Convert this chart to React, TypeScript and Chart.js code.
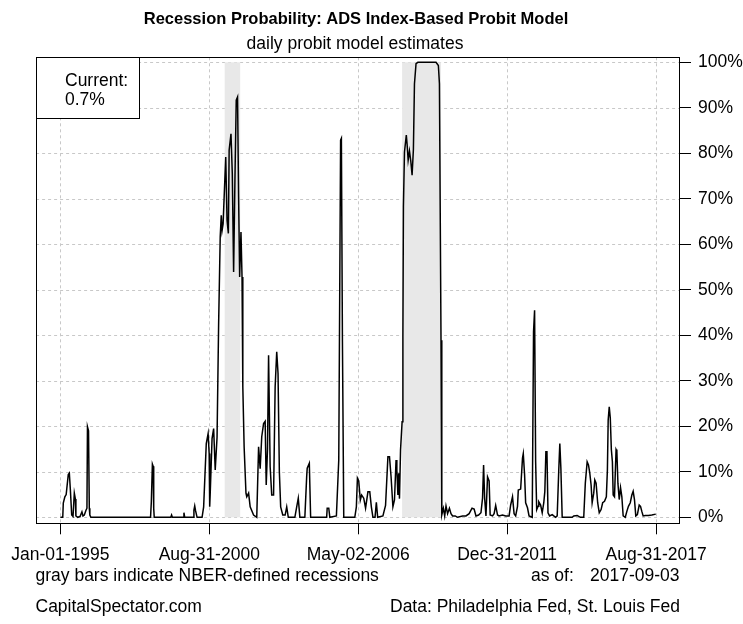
import React, { useEffect, useRef } from "react";
import { Chart, registerables } from "chart.js";

Chart.register(...registerables);

// ---------- data (decimal years, % probability) ----------
const probDates: number[] = [
  1995.00, 1995.09, 1995.11, 1995.17, 1995.22, 1995.30, 1995.34, 1995.38, 1995.43, 1995.48,
  1995.53, 1995.57, 1995.59, 1995.66, 1995.75, 1995.82, 1995.86, 1995.91, 1995.97, 1996.01,
  1996.03, 1996.07, 1996.10, 1996.12, 1996.16, 1998.43, 1998.46, 1998.50, 1998.53, 1998.55,
  1998.57, 1999.20, 1999.23, 1999.26, 1999.67, 1999.70, 1999.73, 2000.05, 2000.08, 2000.11,
  2000.14, 2000.20, 2000.39,
  2000.45, 2000.55, 2000.62, 2000.66, 2000.68, 2000.70, 2000.77, 2000.83, 2000.89, 2000.96,
  2001.02, 2001.08, 2001.12, 2001.15, 2001.19, 2001.24, 2001.29, 2001.34, 2001.39, 2001.42,
  2001.49, 2001.54, 2001.59, 2001.64, 2001.69, 2001.74, 2001.78, 2001.82, 2001.87, 2001.91,
  2001.94, 2001.99, 2002.06, 2002.09, 2002.16, 2002.22, 2002.35, 2002.47, 2002.54, 2002.60,
  2002.66, 2002.73, 2002.79, 2002.83, 2002.88, 2002.92, 2002.98, 2003.04, 2003.11, 2003.17,
  2003.23, 2003.28, 2003.33, 2003.38, 2003.46, 2003.55, 2003.61,
  2003.67, 2003.92, 2003.99, 2004.05, 2004.11, 2004.30, 2004.37, 2004.39, 2004.47, 2004.52,
  2005.13, 2005.15, 2005.21, 2005.25, 2005.50, 2005.59, 2005.66, 2005.69, 2005.73, 2005.78,
  2006.20, 2006.26, 2006.30, 2006.35, 2006.41, 2006.46, 2006.54, 2006.61, 2006.70, 2006.77,
  2006.83, 2006.89, 2006.97, 2007.02, 2007.07, 2007.27, 2007.37, 2007.46, 2007.52, 2007.58,
  2007.65, 2007.71, 2007.77, 2007.80, 2007.84, 2007.87, 2007.90, 2007.94, 2008.00, 2008.03,
  2008.05, 2008.09, 2008.16, 2008.19, 2008.23, 2008.28, 2008.33, 2008.38, 2008.43, 2008.47,
  2008.53, 2008.60, 2009.29, 2009.38, 2009.42, 2009.48, 2009.51,
  2009.57, 2009.62, 2009.67, 2009.73, 2009.80, 2009.86, 2009.92, 2010.02, 2010.11, 2010.30,
  2010.43, 2010.55, 2010.66, 2010.74, 2010.81, 2010.91, 2011.00, 2011.06, 2011.10, 2011.14,
  2011.19, 2011.25, 2011.31, 2011.35, 2011.44, 2011.50, 2011.56, 2011.63, 2011.69, 2011.82,
  2011.94,
  2012.07, 2012.13, 2012.20, 2012.26, 2012.32, 2012.39, 2012.42, 2012.51, 2012.58, 2012.61,
  2012.66, 2012.70, 2012.77, 2012.83, 2012.95, 2013.00, 2013.04, 2013.08, 2013.12, 2013.17,
  2013.20, 2013.27, 2013.33, 2013.39, 2013.43, 2013.47, 2013.51, 2013.55, 2013.61, 2013.71,
  2013.77, 2013.84, 2013.90, 2013.96, 2014.00, 2014.04, 2014.09, 2014.47, 2014.53, 2014.66,
  2014.78, 2014.91, 2014.97, 2015.04, 2015.09, 2015.14, 2015.19, 2015.23, 2015.29, 2015.33,
  2015.38, 2015.44, 2015.50, 2015.57, 2015.63, 2015.70, 2015.77, 2015.81, 2015.84, 2015.88,
  2015.92, 2015.96, 2016.00, 2016.03, 2016.08, 2016.14, 2016.17, 2016.21, 2016.26, 2016.31,
  2016.36, 2016.41, 2016.49, 2016.55, 2016.61, 2016.68, 2016.74, 2016.79, 2016.84, 2016.89,
  2016.95, 2017.02, 2017.07, 2017.12, 2017.17, 2017.25, 2017.37, 2017.50, 2017.65,
];

const probValues: number[] = [
  0, 0, 3.1, 4.5, 5, 9.4, 9.7, 6, 0.5, 0.2,
  5.3, 4, 0.3, 0, 0.2, 1.2, 0.3, 0.5, 1.5, 2,
  19.9, 19, 2, 0.5, 0, 0, 3.4, 11.7, 11.2, 2,
  0, 0, 0.5, 0, 0, 1, 0, 0, 1.6, 2.5,
  1.5, 0, 0,
  2.3, 16.2, 18.4, 14, 2.3, 5.3, 17.3, 19.5, 10.4, 17.6,
  42.6, 61.6, 66.4, 63, 64.5, 71.9, 79.2, 65.3, 62.4, 80.7,
  84.3, 75.5, 53.9, 74.1, 91.7, 92.4, 70.4, 52.8, 62.7, 52.8,
  28.7, 15.5, 5.3, 4.5, 5.3, 2.3, 0.5, 0, 15.5, 10.7,
  17.7, 20.6, 21.1, 7.1, 15.1, 35.6, 11.1, 4.9, 4.9, 28.7,
  36.4, 31.6, 10, 2.3, 0.5, 0.5, 2.3,
  0, 0, 2.3, 4.2, 0, 0, 9, 10.8, 11.9, 0,
  0, 2, 2, 0, 0.3, 12.6, 82.9, 83.3, 38.6, 0,
  0, 2.3, 8.6, 8, 3.8, 4.9, 4.2, 2, 5.6, 5.6,
  2.3, 0, 0, 3.3, 0, 0.3, 2.6, 13.3, 13.3, 8.9,
  2.3, 3.8, 12.6, 10.4, 4.9, 9.7, 4.1, 14.8, 21, 39.7,
  68.2, 80.3, 84, 82, 78.5, 80.5, 78.3, 75.2, 80.9, 95.3,
  99.7, 100, 100, 99.3, 95.3, 38.9, 0.5,
  2, 0.3, 2.5, 0.8, 2, 0.8, 0.3, 0.3, 0, 0.3,
  0.3, 0.8, 2, 1.8, 0.3, 0.5, 1, 4.2, 11.5, 4.2,
  0.3, 8.9, 8, 0.5, 0.3, 0.8, 2.6, 0.5, 0.3, 0.5,
  0.3,
  0.3, 2.7, 4.5, 0.8, 0.3, 2.4, 6, 6.2, 13, 14,
  9.3, 3.2, 2.1, 0.3, 0, 40.8, 45.5, 12.2, 1.7, 2.4,
  3.4, 2.7, 1, 3.2, 5.7, 14.4, 14.4, 1, 0.3, 0.6,
  0.3, 0, 0.3, 10.4, 16.2, 10.8, 0, 0, 0.3, 0.4,
  0, 0, 7.5, 12.2, 11.5, 9.7, 7.1, 3.2, 5.3, 8.2,
  7.5, 3.2, 1, 1.7, 3.2, 3.5, 4.5, 10.4, 21.4, 24.3,
  21.8, 14.9, 12.2, 4.9, 4.5, 14.9, 14.5, 7.5, 3.9, 6.5,
  4.5, 0.3, 0, 1.3, 2.4, 3.2, 4.9, 5.7, 3.9, 0.3,
  0.6, 2.7, 2.4, 1.3, 0.3, 0.4, 0.4, 0.5, 0.7,
];

const recessionStarts: number[] = [2001.25, 2008.0];
const recessionEnds: number[] = [2001.84, 2009.48];

const xTickYears: number[] = [1995.0, 2000.664, 2006.332, 2011.997, 2017.663];
const xTickLabels: string[] = ["Jan-01-1995", "Aug-31-2000", "May-02-2006", "Dec-31-2011", "Aug-31-2017"];
const yTickValues: number[] = [0, 10, 20, 30, 40, 50, 60, 70, 80, 90, 100];
const xMin = 1994.076;
const xMax = 2018.534;
const yMin = -1.32;
const yMax = 101.1;

const currentLabel = "Current:";
const currentValue = "0.7%";
const titleText = "Recession Probability: ADS Index-Based Probit Model";
const subtitleText = "daily probit model estimates";
const noteText = "gray bars indicate NBER-defined recessions";
const asOfLabel = "as of:";
const asOfDate = "2017-09-03";
const sourceLeft = "CapitalSpectator.com";
const sourceRight = "Data: Philadelphia Fed, St. Louis Fed";

const FAMILY = "'Liberation Sans', Arial, sans-serif";
const FS = 17.5;
const W = 743;
const H = 624;

const decorPlugin = {
  id: "decor",
  beforeDatasetsDraw(chart: any) {
    const { ctx, chartArea: a, scales } = chart;
    const x = scales.x;
    const y = scales.y;
    ctx.save();
    ctx.strokeStyle = "#c8c8c8";
    ctx.lineWidth = 1;
    ctx.setLineDash([3, 3]);
    for (const v of xTickYears) {
      const px = Math.round(x.getPixelForValue(v)) + 0.5;
      ctx.beginPath();
      ctx.moveTo(px, a.top);
      ctx.lineTo(px, a.bottom);
      ctx.stroke();
    }
    for (const v of yTickValues) {
      const py = Math.round(y.getPixelForValue(v)) + 0.5;
      ctx.beginPath();
      ctx.moveTo(a.left, py);
      ctx.lineTo(a.right, py);
      ctx.stroke();
    }
    ctx.setLineDash([]);
    ctx.fillStyle = "#e8e8e8";
    const yTop = y.getPixelForValue(100);
    const yBot = y.getPixelForValue(0);
    recessionStarts.forEach((s, i) => {
      const x0 = x.getPixelForValue(s);
      const x1 = x.getPixelForValue(recessionEnds[i]);
      ctx.fillRect(x0, yTop, x1 - x0, yBot - yTop);
    });
    ctx.restore();
  },
  afterDraw(chart: any) {
    const { ctx, chartArea: a } = chart;
    ctx.save();
    ctx.strokeStyle = "#000";
    ctx.lineWidth = 1;
    ctx.strokeRect(Math.round(a.left) + 0.5, Math.round(a.top) + 0.5, Math.round(a.right - a.left), Math.round(a.bottom - a.top));
    const lx = Math.round(a.left) + 0.5;
    const ly = Math.round(a.top) + 0.5;
    ctx.fillStyle = "#fff";
    ctx.fillRect(lx, ly, 103, 61);
    ctx.strokeRect(lx, ly, 103, 61);
    ctx.fillStyle = "#000";
    ctx.textAlign = "left";
    ctx.textBaseline = "alphabetic";
    ctx.font = `${FS}px ${FAMILY}`;
    ctx.fillText(currentLabel, 65, 86);
    ctx.fillText(currentValue, 65, 105);
    ctx.textAlign = "center";
    ctx.font = `bold 16.5px ${FAMILY}`;
    ctx.fillText(titleText, 356, 24);
    ctx.font = `${FS}px ${FAMILY}`;
    ctx.fillText(subtitleText, 355, 48.5);
    ctx.textAlign = "left";
    ctx.fillText(noteText, 35.5, 581);
    ctx.fillText(asOfLabel, 531, 581);
    ctx.fillText(asOfDate, 590, 581);
    ctx.fillText(sourceLeft, 35.5, 612);
    ctx.fillText(sourceRight, 390, 612);
    ctx.restore();
  },
};

export default function App() {
  const ref = useRef<HTMLCanvasElement | null>(null);
  useEffect(() => {
    document.body.style.margin = "0";
    const canvas = ref.current;
    if (!canvas) return;
    const chart = new Chart(canvas, {
      type: "line",
      data: {
        datasets: [
          {
            data: probDates.map((d, i) => ({ x: d, y: probValues[i] })),
            borderColor: "#000",
            borderWidth: 1.5,
            pointRadius: 0,
            fill: false,
            tension: 0,
          },
        ],
      },
      options: {
        responsive: false,
        animation: false,
        devicePixelRatio: 1,
        layout: { padding: { left: 33.3, top: 57.3, right: 0, bottom: 0 } },
        plugins: { legend: { display: false }, tooltip: { enabled: false }, title: { display: false } },
        scales: {
          x: {
            type: "linear",
            position: "bottom",
            min: xMin,
            max: xMax,
            afterBuildTicks: (s: any) => {
              s.ticks = xTickYears.map((v) => ({ value: v }));
            },
            afterFit: (s: any) => {
              s.height = H - 523.3;
            },
            ticks: {
              autoSkip: false,
              maxRotation: 0,
              minRotation: 0,
              padding: 10,
              color: "#000",
              font: { family: FAMILY, size: FS },
              callback: (_v: any, i: number) => xTickLabels[i],
            },
            grid: { drawOnChartArea: false, drawTicks: true, tickLength: 11, tickColor: "#000", tickWidth: 1 },
            border: { display: false },
          },
          y: {
            type: "linear",
            position: "right",
            min: yMin,
            max: yMax,
            afterBuildTicks: (s: any) => {
              s.ticks = yTickValues.map((v) => ({ value: v }));
            },
            afterFit: (s: any) => {
              s.width = W - 679;
            },
            ticks: {
              autoSkip: false,
              padding: 7,
              color: "#000",
              font: { family: FAMILY, size: FS },
              callback: (v: any) => `${v}%`,
            },
            grid: { drawOnChartArea: false, drawTicks: true, tickLength: 12, tickColor: "#000", tickWidth: 1 },
            border: { display: false },
          },
        },
      },
      plugins: [decorPlugin],
    });
    return () => chart.destroy();
  }, []);
  return (
    <div style={{ width: W, height: H }}>
      <canvas ref={ref} width={W} height={H} style={{ display: "block", width: W, height: H }} />
    </div>
  );
}
